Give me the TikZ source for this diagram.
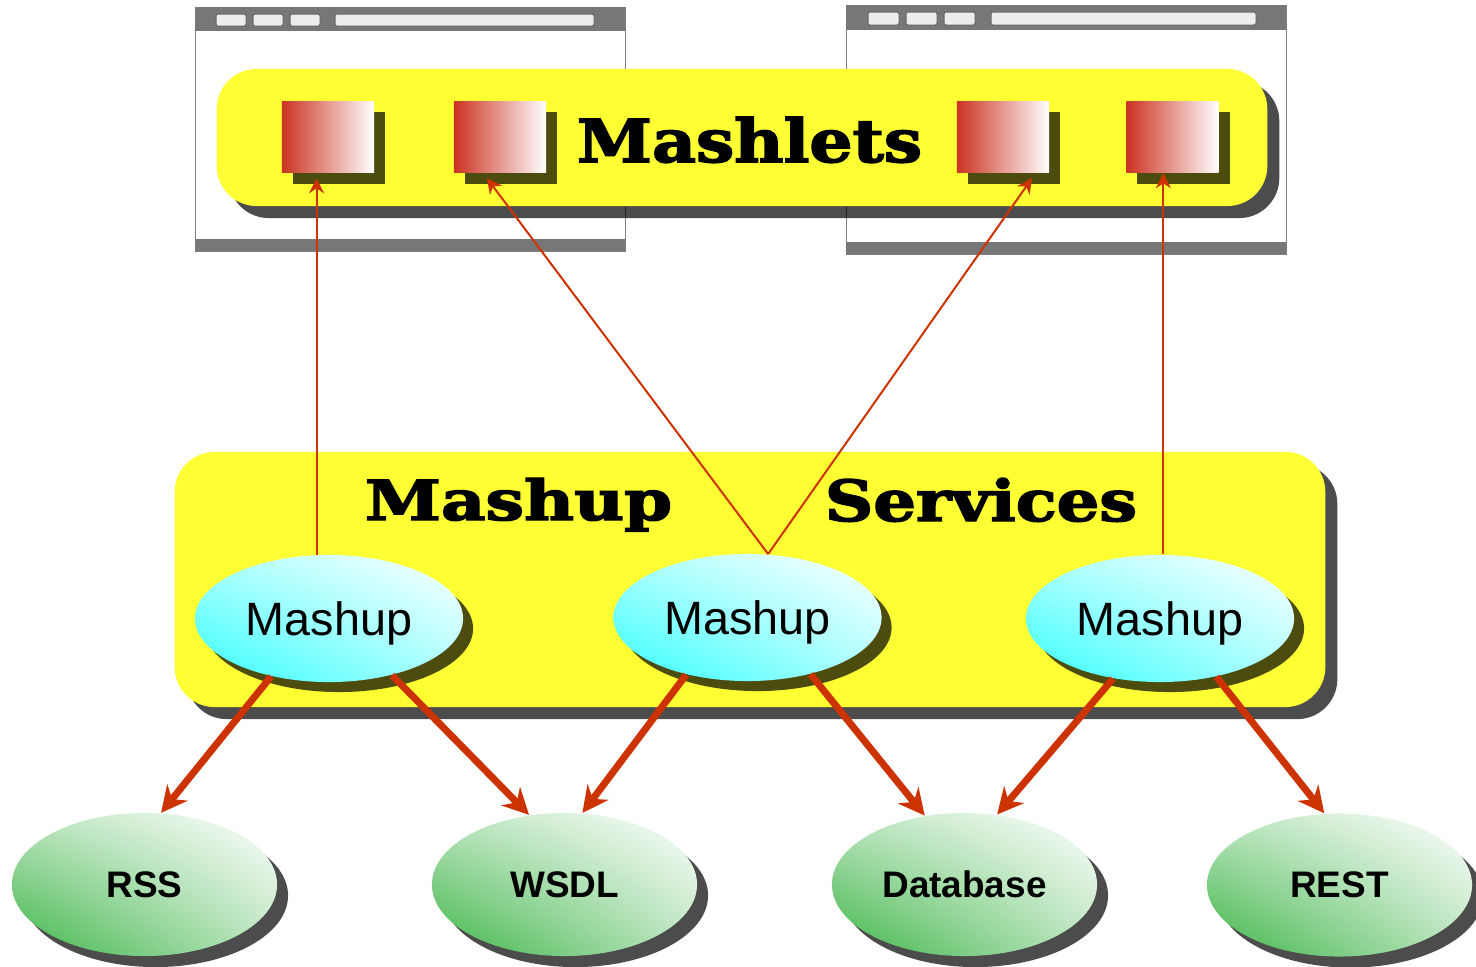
\documentclass[tikz,border=0pt]{standalone}
\usepackage{fontspec}
\setmainfont{Liberation Sans}
\newfontfamily\slabfont{DejaVu Serif}[BoldFeatures={FakeBold=2.5}]
\usepackage{graphicx}
\usetikzlibrary{shapes.geometric,shadows,shadings,arrows.meta}
\definecolor{barYellow}{RGB}{255,255,51}
\definecolor{arrowRed}{RGB}{204,51,0}
\definecolor{boxRed}{RGB}{204,51,34}
\definecolor{svcCyan}{RGB}{51,255,255}
\definecolor{srcGreen}{RGB}{60,180,70}
\definecolor{winGray}{RGB}{119,119,119}
\definecolor{btnGray}{RGB}{236,236,236}
\tikzset{
  shadowed/.style={drop shadow={shadow xshift=#1, shadow yshift=-#1, opacity=.7, fill=black}},
  bar/.style={rectangle, rounded corners=0.4cm, fill=barYellow, shadowed=0.12cm},
  mashlet/.style={rectangle, minimum width=0.92cm, minimum height=0.71cm, inner sep=0pt,
    left color=boxRed, right color=white, shadowed=0.11cm},
  svc/.style={ellipse, minimum width=2.68cm, minimum height=1.27cm, inner sep=0pt, text depth=0pt,
    font=\fontsize{13.3pt}{16pt}\selectfont,
    lower left=svcCyan, upper right=white, upper left=svcCyan!40!white, lower right=svcCyan!40!white,
    shadowed=0.1cm},
  src/.style={ellipse, minimum width=2.65cm, minimum height=1.43cm, inner sep=0pt, text depth=0pt,
    font=\fontsize{10.5pt}{13pt}\selectfont\bfseries,
    lower left=srcGreen, upper right=white, upper left=srcGreen!35!white, lower right=srcGreen!35!white,
    shadowed=0.11cm},
  btn/.style={fill=btnGray, draw=black!60, line width=0.01cm, rounded corners=0.02cm},
  toMashlet/.style={arrowRed, line width=0.02cm, -{Stealth[length=0.15cm,width=0.15cm]}},
  toSource/.style={arrowRed, line width=0.07cm, -{Stealth[length=0.26cm,width=0.26cm]}},
}
\begin{document}
\begin{tikzpicture}[x=0.01cm,y=-0.01cm]
\useasboundingbox (0,0) rectangle (1476,966);

\filldraw[fill=white, draw=black!50, line width=0.01cm] (195,7) rectangle (625,251);
\fill[winGray] (195,7) rectangle (625,31);
\fill[winGray] (195,239) rectangle (625,251);
\foreach \x in {216,253,290}
  \draw[btn] (\x,14) rectangle ++(30,12);
\draw[btn] (335,14) rectangle (594,26);

\filldraw[fill=white, draw=black!50, line width=0.01cm] (846,5) rectangle (1286,254);
\fill[winGray] (846,5) rectangle (1286,30);
\fill[winGray] (846,242) rectangle (1286,254);
\foreach \x in {868,906,944}
  \draw[btn] (\x,12) rectangle ++(31,13);
\draw[btn] (991,12) rectangle (1256,25);

\node[bar, minimum width=10.5cm, minimum height=1.37cm] (mashlets) at (742,137.5) {};
\node[mashlet] (b1) at (328,137) {};
\node[mashlet] (b2) at (500,137) {};
\node[mashlet] (b3) at (1003,137) {};
\node[mashlet] (b4) at (1172.5,137) {};
\node[anchor=base, inner sep=0pt] (mashletsTitle) at (749.5,162)
  {\resizebox{3.45cm}{0.45cm}{\slabfont\bfseries Mashlets}};

\node[bar, minimum width=11.5cm, minimum height=2.55cm] (services) at (750,579.5) {};
\node[anchor=base, inner sep=0pt] (servicesLeft) at (518.5,520)
  {\resizebox{3.07cm}{0.42cm}{\slabfont\bfseries Mashup}};
\node[anchor=base, inner sep=0pt] (servicesRight) at (981,521)
  {\resizebox{3.12cm}{0.43cm}{\slabfont\bfseries Services}};

\node[svc] (m1) at (329,618.5) {Mashup};
\node[svc] (m2) at (747.5,617.5) {Mashup};
\node[svc] (m3) at (1160,618.5) {Mashup};

\node[src] (rss) at (144.5,884.5) {RSS};
\node[src] (wsdl) at (564.5,884.5) {WSDL};
\node[src] (db) at (964.5,884.5) {Database};
\node[src] (rest) at (1339.5,885) {REST};

\coordinate (t1) at ([yshift=-0.05cm]b1.south);
\coordinate (t2) at ([xshift=-0.13cm,yshift=-0.05cm]b2.south);
\coordinate (t3) at ([xshift=0.29cm,yshift=-0.05cm]b3.south);
\coordinate (t4) at (b4.south);
\coordinate (s2) at (m2.72);

\draw[toMashlet] (m1.101) -- (m1.101 |- t1);
\draw[toMashlet] (s2) -- (t2);
\draw[toMashlet] (s2) -- (t3);
\draw[toMashlet] (m3.87) -- (m3.87 |- t4);

\draw[toSource] (m1.225) -- (rss.77);
\draw[toSource] (m1.318) -- (wsdl.117);
\draw[toSource] (m2.223) -- (wsdl.76);
\draw[toSource] (m2.318) -- (db.120);
\draw[toSource] (m3.232) -- (db.65);
\draw[toSource] (m3.314) -- (rest.102);
\end{tikzpicture}
\end{document}
